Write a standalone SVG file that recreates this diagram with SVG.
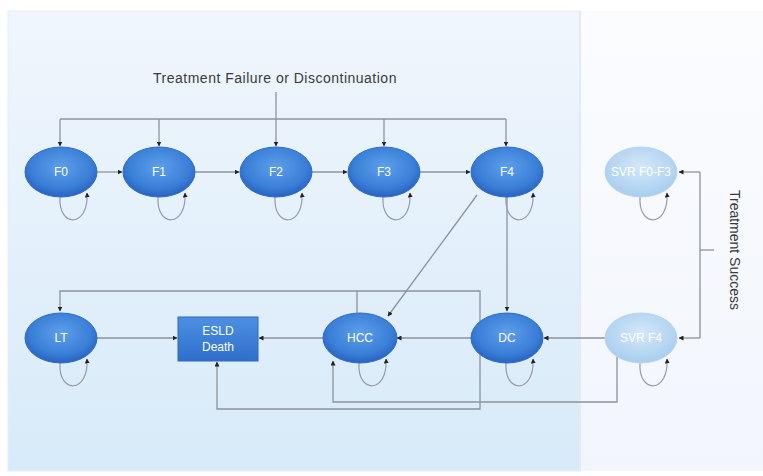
<svg xmlns="http://www.w3.org/2000/svg" width="763" height="476" viewBox="0 0 763 476">
<defs>
<linearGradient id="bgL" x1="0" y1="0" x2="0" y2="1">
<stop offset="0" stop-color="#f0f6fc"/>
<stop offset="1" stop-color="#d7eaf9"/>
</linearGradient>
<linearGradient id="bgR" x1="0" y1="0" x2="0" y2="1">
<stop offset="0" stop-color="#fafcfe"/>
<stop offset="1" stop-color="#f2f5fc"/>
</linearGradient>
<radialGradient id="gDark" cx="50%" cy="40%" r="60%">
<stop offset="0" stop-color="#5e9fea"/>
<stop offset="0.7" stop-color="#3a7fd8"/>
<stop offset="1" stop-color="#2862c0"/>
</radialGradient>
<radialGradient id="gLight" cx="50%" cy="40%" r="60%">
<stop offset="0" stop-color="#d4e8f9"/>
<stop offset="1" stop-color="#a8cdef"/>
</radialGradient>
<linearGradient id="gRect" x1="0" y1="0" x2="0" y2="1">
<stop offset="0" stop-color="#4d90e2"/>
<stop offset="1" stop-color="#2f6fcc"/>
</linearGradient>
<marker id="ah" viewBox="0 0 10 10" refX="9" refY="5" markerWidth="5" markerHeight="5" markerUnits="userSpaceOnUse" orient="auto">
<path d="M0,0 L10,5 L0,10 z" fill="#222"/>
</marker>
</defs>
<style>
.con{fill:none;stroke:#8d939b;stroke-width:1.3}
.loop{fill:none;stroke:#9a98b0;stroke-width:1.2}
.dark{fill:url(#gDark);stroke:#2f6bc6;stroke-width:1}
.light{fill:url(#gLight);stroke:#b8d6f1;stroke-width:1}
.lbl{font-family:"Liberation Sans",Arial,sans-serif;font-size:12px;fill:#ffffff;text-anchor:middle}
.ttl{font-family:"Liberation Sans",Arial,sans-serif;font-size:14px;fill:#3a3a3a;text-anchor:middle}
</style>
<rect x="0" y="0" width="763" height="476" fill="#ffffff"/>
<rect x="8" y="11" width="572" height="460" fill="url(#bgL)" stroke="#e4eef7"/>
<rect x="580" y="11" width="183" height="460" fill="url(#bgR)"/>
<line x1="580" y1="11" x2="580" y2="471" stroke="#e2ebf5" stroke-width="2"/>

<text class="ttl" x="275" y="83" letter-spacing="0.5">Treatment Failure or Discontinuation</text>
<text class="ttl" transform="translate(730,250) rotate(90)">Treatment Success</text>

<g id="connectors">
<path class="con" d="M276,92 V146" marker-end="url(#ah)"/>
<path class="con" d="M60,119 H506"/>
<path class="con" d="M60,119 V146" marker-end="url(#ah)"/>
<path class="con" d="M159,119 V146" marker-end="url(#ah)"/>
<path class="con" d="M384,119 V146" marker-end="url(#ah)"/>
<path class="con" d="M506,119 V146" marker-end="url(#ah)"/>
<path class="con" d="M97,172 H122" marker-end="url(#ah)"/>
<path class="con" d="M195,172 H239" marker-end="url(#ah)"/>
<path class="con" d="M312,172 H347" marker-end="url(#ah)"/>
<path class="con" d="M420,172 H470" marker-end="url(#ah)"/>
<path class="con" d="M507,197 V311" marker-end="url(#ah)"/>
<path class="con" d="M477,195 L388,316" marker-end="url(#ah)"/>
<path class="con" d="M480,322 V291 H60 V311" marker-end="url(#ah)"/>
<path class="con" d="M357,313 V291"/>
<path class="con" d="M97,338 H177" marker-end="url(#ah)"/>
<path class="con" d="M323,338 H259" marker-end="url(#ah)"/>
<path class="con" d="M471,338 H397" marker-end="url(#ah)"/>
<path class="con" d="M605,338 H544" marker-end="url(#ah)"/>
<path class="con" d="M480,354 V409 H217 V362" marker-end="url(#ah)"/>
<path class="con" d="M617,357 V402 H333 V361" marker-end="url(#ah)"/>
<path class="con" d="M700,172 H679" marker-end="url(#ah)"/>
<path class="con" d="M700,172 V338"/>
<path class="con" d="M700,338 H679" marker-end="url(#ah)"/>
<path class="con" d="M700,250 H714"/>
<path class="loop" d="M60,197 C58,228 89,228 87,193" marker-end="url(#ah)"/>
<path class="loop" d="M158,197 C156,228 187,228 185,193" marker-end="url(#ah)"/>
<path class="loop" d="M275,197 C273,228 304,228 302,193" marker-end="url(#ah)"/>
<path class="loop" d="M383,197 C381,228 412,228 410,193" marker-end="url(#ah)"/>
<path class="loop" d="M506,197 C504,228 535,228 533,193" marker-end="url(#ah)"/>
<path class="loop" d="M640,197 C638,228 669,228 667,193" marker-end="url(#ah)"/>
<path class="loop" d="M60,363 C58,394 89,394 87,359" marker-end="url(#ah)"/>
<path class="loop" d="M359,363 C357,394 388,394 386,359" marker-end="url(#ah)"/>
<path class="loop" d="M506,363 C504,394 535,394 533,359" marker-end="url(#ah)"/>
<path class="loop" d="M640,363 C638,394 669,394 667,359" marker-end="url(#ah)"/>
</g>

<g id="F0"><ellipse class="dark" cx="61" cy="172" rx="36" ry="25"/><text class="lbl" x="61" y="176">F0</text></g>
<g id="F1"><ellipse class="dark" cx="159" cy="172" rx="36" ry="25"/><text class="lbl" x="159" y="176">F1</text></g>
<g id="F2"><ellipse class="dark" cx="276" cy="172" rx="36" ry="25"/><text class="lbl" x="276" y="176">F2</text></g>
<g id="F3"><ellipse class="dark" cx="384" cy="172" rx="36" ry="25"/><text class="lbl" x="384" y="176">F3</text></g>
<g id="F4"><ellipse class="dark" cx="507" cy="172" rx="36" ry="25"/><text class="lbl" x="507" y="176">F4</text></g>
<g id="SVR_F0_F3"><ellipse class="light" cx="641" cy="172" rx="36" ry="25"/><text class="lbl" x="641" y="176">SVR F0-F3</text></g>
<g id="LT"><ellipse class="dark" cx="61" cy="338" rx="36" ry="25"/><text class="lbl" x="61" y="342">LT</text></g>
<g id="ESLD_Death"><rect x="178" y="317" width="80" height="44" fill="url(#gRect)" stroke="#2c68c2"/><text class="lbl" x="218" y="335">ESLD</text><text class="lbl" x="218" y="351">Death</text></g>
<g id="HCC"><ellipse class="dark" cx="360" cy="338" rx="37" ry="25"/><text class="lbl" x="360" y="342">HCC</text></g>
<g id="DC"><ellipse class="dark" cx="507" cy="338" rx="36" ry="25"/><text class="lbl" x="507" y="342">DC</text></g>
<g id="SVR_F4"><ellipse class="light" cx="641" cy="338" rx="36" ry="25"/><text class="lbl" x="641" y="342">SVR F4</text></g>
</svg>
